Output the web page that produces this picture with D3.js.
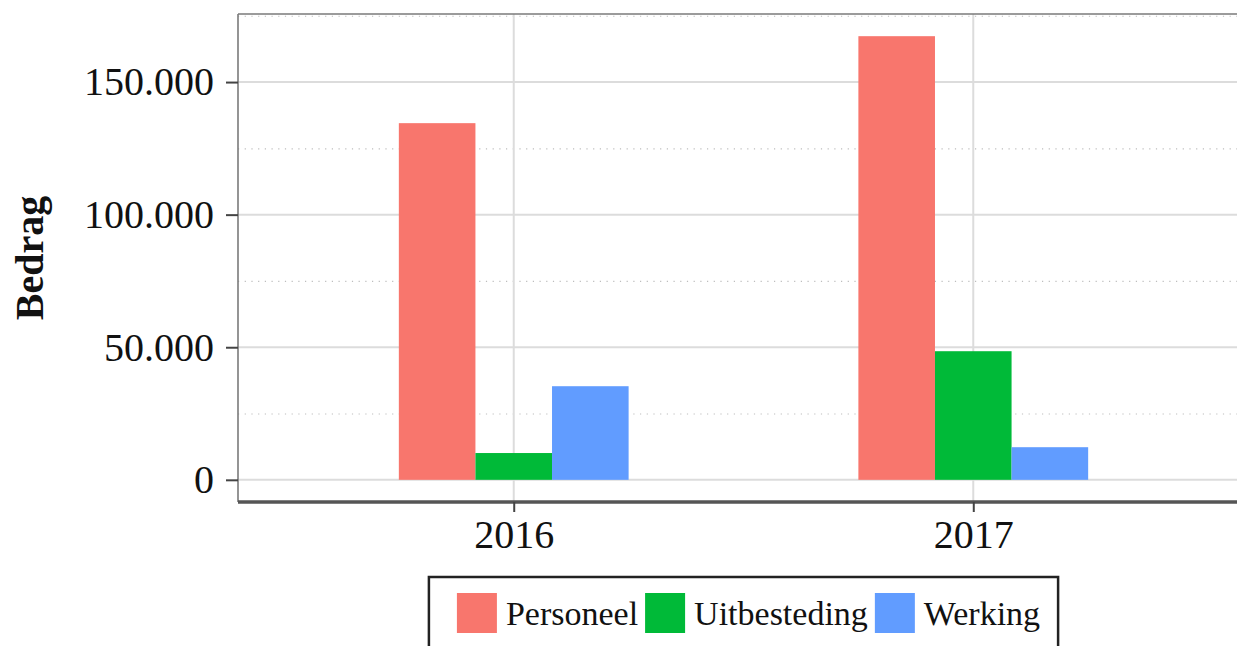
<!DOCTYPE html>
<html lang="nl">
<head>
<meta charset="utf-8">
<title>Bedrag per jaar</title>
<style type="text/css">
  body { margin: 0; background: #fff; }
  svg { display: block; }
  text { font-family: "Liberation Serif", "Times New Roman", serif; fill: #111; }
  .grid-major line { stroke: #dcdcdc; stroke-width: 2; }
  .grid-minor line { stroke: #bdbdbd; stroke-width: 1.2; stroke-dasharray: 1.2 5.5; }
</style>
</head>
<body>
<script src="https://d3js.org/d3.v7.min.js"></script>
<div id="chart"></div>
<script type="text/javascript">

// data
var years = ["2016", "2017"];
var series = ["Personeel", "Uitbesteding", "Werking"];
var colors = ["#F8766D", "#00BA38", "#619CFF"];
var personeel = [134500, 167300];
var uitbesteding = [10100, 48500];
var werking = [35300, 12300];
var yTicks = [0, 50000, 100000, 150000];
var yMinorTicks = [25000, 75000, 125000, 175000];

var width = 1237, height = 646;
// panel (right edge runs past the picture)
var pLeft = 238, pRight = 1249, pTop = 14, pBottom = 502;

var svg = d3.select("#chart").append("svg")
    .attr("width", width)
    .attr("height", height);

var rows = [];
years.forEach(function(yr, i) {
  rows.push({year: yr, serie: "Personeel", value: personeel[i]});
  rows.push({year: yr, serie: "Uitbesteding", value: uitbesteding[i]});
  rows.push({year: yr, serie: "Werking", value: werking[i]});
});

var maxV = d3.max(rows, function(d) { return d.value; });
var y = d3.scaleLinear()
    .domain([-0.05 * maxV, 1.05 * maxV])
    .range([pBottom, pTop]);

var x = d3.scalePoint()
    .domain(years)
    .range([pLeft, pRight])
    .padding(0.6);

var inner = d3.scaleBand()
    .domain(series)
    .range([-x.step() / 4, x.step() / 4]);

var color = d3.scaleOrdinal().domain(series).range(colors);

// clip for panel contents
svg.append("clipPath").attr("id", "panel")
  .append("rect").attr("x", pLeft).attr("y", pTop)
  .attr("width", pRight - pLeft).attr("height", pBottom - pTop);

var g = svg.append("g").attr("clip-path", "url(#panel)");

// minor gridlines (dotted)
g.append("g").attr("class", "grid-minor")
  .selectAll("line").data(yMinorTicks).enter().append("line")
  .attr("x1", pLeft).attr("x2", pRight)
  .attr("y1", function(d) { return y(d) + 0.5; })
  .attr("y2", function(d) { return y(d) + 0.5; });

// major gridlines
var major = g.append("g").attr("class", "grid-major");
major.selectAll("line.h").data(yTicks).enter().append("line")
  .attr("class", "h")
  .attr("x1", pLeft).attr("x2", pRight)
  .attr("y1", function(d) { return y(d); })
  .attr("y2", function(d) { return y(d); });
major.selectAll("line.v").data(years).enter().append("line")
  .attr("class", "v")
  .attr("x1", function(d) { return x(d); })
  .attr("x2", function(d) { return x(d); })
  .attr("y1", pTop).attr("y2", pBottom);

// bars
g.selectAll("rect.bar").data(rows).enter().append("rect")
  .attr("class", "bar")
  .attr("x", function(d) { return x(d.year) + inner(d.serie); })
  .attr("width", inner.bandwidth())
  .attr("y", function(d) { return y(d.value); })
  .attr("height", function(d) { return y(0) - y(d.value); })
  .attr("fill", function(d) { return color(d.serie); });

// panel border: top + left light, bottom darker
svg.append("line").attr("x1", pLeft).attr("x2", pRight).attr("y1", pTop).attr("y2", pTop)
  .attr("stroke", "#7a7a7a").attr("stroke-width", 1.6);
svg.append("line").attr("x1", pLeft).attr("x2", pLeft).attr("y1", pTop).attr("y2", pBottom)
  .attr("stroke", "#7a7a7a").attr("stroke-width", 1.6);

// y axis
var yAxis = svg.append("g")
    .attr("transform", "translate(" + pLeft + ",0)")
    .call(d3.axisLeft(y).tickValues(yTicks).tickSize(12).tickPadding(12)
      .tickFormat(function(d) { return d3.format(",")(d).replace(/,/g, "."); }));
yAxis.select(".domain").remove();
yAxis.selectAll(".tick line").attr("stroke", "#444").attr("stroke-width", 2);
yAxis.selectAll(".tick text").attr("font-size", 40).attr("fill", "#111")
  .attr("font-family", "Liberation Serif, serif");

// x axis
var xAxis = svg.append("g")
    .attr("transform", "translate(0," + pBottom + ")")
    .call(d3.axisBottom(x).tickSize(10).tickPadding(8).tickSizeOuter(0));
xAxis.select(".domain").attr("stroke", "#555").attr("stroke-width", 3.5)
  .attr("d", "M" + pLeft + ",0H" + pRight);
xAxis.selectAll(".tick line").attr("stroke", "#444").attr("stroke-width", 2);
xAxis.selectAll(".tick text").attr("font-size", 40).attr("fill", "#111")
  .attr("font-family", "Liberation Serif, serif");

// y title
svg.append("text")
  .attr("transform", "translate(43," + ((pTop + pBottom) / 2) + ") rotate(-90)")
  .attr("text-anchor", "middle")
  .attr("font-size", 40)
  .attr("font-weight", "bold")
  .text("Bedrag");

// legend
var legend = svg.append("g");
var keySize = 40, fs = 34;
var cx = 28;
var items = legend.selectAll("g.item").data(series).enter().append("g").attr("class", "item");
items.append("rect")
  .attr("width", keySize).attr("height", keySize)
  .attr("fill", function(d) { return color(d); });
items.append("text")
  .attr("x", keySize + 9)
  .attr("y", keySize / 2)
  .attr("dy", "0.35em")
  .attr("font-size", fs)
  .text(function(d) { return d; });
items.each(function() {
  var w = d3.select(this).select("text").node().getComputedTextLength();
  d3.select(this).attr("transform", "translate(" + cx + ",0)");
  cx += keySize + 9 + w + 7;
});
var boxW = cx - 7 + 18;
var boxX = (pLeft + pRight) / 2 - boxW / 2;
legend.attr("transform", "translate(" + boxX + ",593)");
legend.insert("rect", ":first-child")
  .attr("x", 0).attr("y", -16)
  .attr("width", boxW).attr("height", 120)
  .attr("fill", "none").attr("stroke", "#222").attr("stroke-width", 2.5);

</script>
</body>
</html>
